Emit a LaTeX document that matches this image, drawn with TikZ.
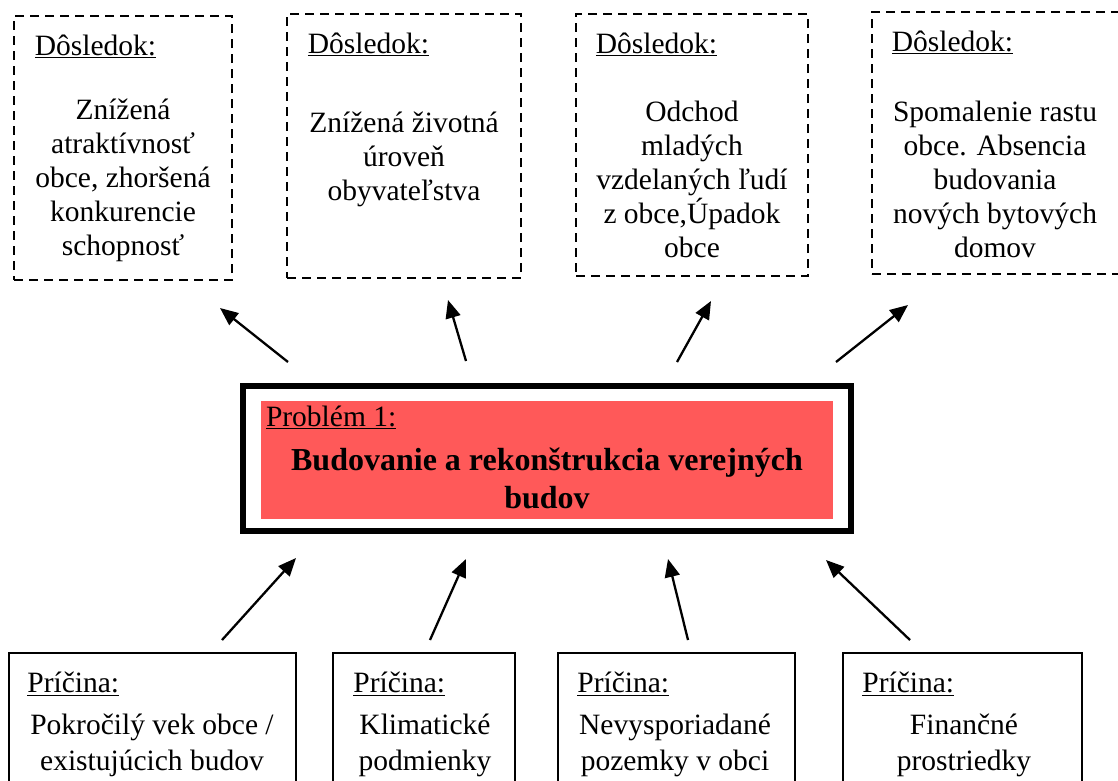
\documentclass[tikz,border=0pt]{standalone}
\usepackage{fontspec}
\setmainfont{Liberation Serif}
\usepackage{xcolor}
\usepackage{tikz}
\usetikzlibrary{arrows.meta,positioning,calc}

\definecolor{probred}{RGB}{255,89,89}

\begin{document}
\begin{tikzpicture}[
    x=1pt, y=-1pt,
    % consequence boxes (top row)
    effbox/.style={draw, dash pattern=on 9pt off 6pt, line width=2.8pt, inner sep=0pt},
    % cause boxes (bottom row)
    causebox/.style={draw, line width=1.6pt, inner sep=0pt, minimum height=187pt},
    % header (Dôsledok, Príčina, Problém)
    head/.style={inner sep=0pt, anchor=north west, font=\fontsize{29.5}{34}\selectfont},
    body/.style={inner sep=0pt, align=center, font=\fontsize{29.5}{34}\selectfont},
    arr/.style={line width=2.3pt, -{Triangle[length=18pt,width=15pt]}},
  ]
  \clip (0,0) rectangle (1118,780);

  % top row
  \node[effbox, minimum width=218pt, minimum height=264pt] (d1) at (123,148) {};
  \node[effbox, minimum width=234pt, minimum height=264pt] (d2) at (404,146) {};
  \node[effbox, minimum width=232pt, minimum height=262pt] (d3) at (692,145) {};
  \node[effbox, minimum width=248pt, minimum height=262pt] (d4) at (996,143) {};

  \node[head, below right=20pt and 22pt of d1.north west] (d1h) {\underline{Dôsledok:}};
  \node[head, below right=20pt and 22pt of d2.north west] (d2h) {\underline{Dôsledok:}};
  \node[head, below right=20pt and 21pt of d3.north west] (d3h) {\underline{Dôsledok:}};
  \node[head, below right=20pt and 21pt of d4.north west] (d4h) {\underline{Dôsledok:}};

  \node[body] (d1t) at (123,180) {Znížená\\atraktívnosť\\obce, zhoršená\\konkurencie\\schopnosť};
  \node[body] (d2t) at (404,159) {Znížená životná\\úroveň\\obyvateľstva};
  \node[body] (d3t) at (692,179) {Odchod\\mladých\\vzdelaných ľudí\\z obce,Úpadok\\obce};
  \node[body] (d4t) at (995,179) {Spomalenie rastu\\obce. Absencia\\budovania\\nových bytových\\domov};

  % problem
  \node[draw, line width=6pt, minimum width=608pt, minimum height=145pt] (prob) at (547,458.5) {};
  \node[fill=probred, inner sep=0pt, minimum width=572pt, minimum height=118pt] (probfill) at (547,460) {};
  \node[head, below right=5pt and 5pt of probfill.north west] (probh) {\underline{Problém 1:}};
  \node[body, font=\fontsize{32}{38}\selectfont\bfseries] (probt) at (547,478)
    {Budovanie a rekonštrukcia verejných\\budov};

  % bottom row
  \node[causebox, minimum width=287pt] (p1) at (152.5,746.5) {};
  \node[causebox, minimum width=182pt] (p2) at (424,746.5) {};
  \node[causebox, minimum width=237pt] (p3) at (676.5,746.5) {};
  \node[causebox, minimum width=239pt] (p4) at (962.5,746.5) {};

  \node[head, below right=20pt and 19pt of p1.north west] (p1h) {\underline{Príčina:}};
  \node[head, below right=20pt and 21pt of p2.north west] (p2h) {\underline{Príčina:}};
  \node[head, below right=20pt and 20pt of p3.north west] (p3h) {\underline{Príčina:}};
  \node[head, below right=20pt and 20pt of p4.north west] (p4h) {\underline{Príčina:}};

  \node[body, font=\fontsize{29.5}{36}\selectfont] (p1t) at (152,745) {Pokročilý vek obce /\\existujúcich budov};
  \node[body, font=\fontsize{29.5}{36}\selectfont] (p2t) at (425,745) {Klimatické\\podmienky};
  \node[body, font=\fontsize{29.5}{36}\selectfont] (p3t) at (675,745) {Nevysporiadané\\pozemky v obci};
  \node[body, font=\fontsize{29.5}{36}\selectfont] (p4t) at (964,745) {Finančné\\prostriedky};

  % arrow ends
  \coordinate (a1s) at (288,362);  \coordinate (a1e) at (220,308);
  \coordinate (a2s) at (466,361);  \coordinate (a2e) at (448,300);
  \coordinate (a3s) at (677,362);  \coordinate (a3e) at (711,301);
  \coordinate (a4s) at (836,362);  \coordinate (a4e) at (908,305);
  \coordinate (b1s) at (222,640);  \coordinate (b1e) at (296,558);
  \coordinate (b2s) at (430,640);  \coordinate (b2e) at (466,559);
  \coordinate (b3s) at (688,640);  \coordinate (b3e) at (668,559);
  \coordinate (b4s) at (910,640);  \coordinate (b4e) at (826,560);

  \foreach \s/\e in {a1s/a1e,a2s/a2e,a3s/a3e,a4s/a4e,b1s/b1e,b2s/b2e,b3s/b3e,b4s/b4e}
    \draw[arr] (\s) -- (\e);
\end{tikzpicture}
\end{document}
